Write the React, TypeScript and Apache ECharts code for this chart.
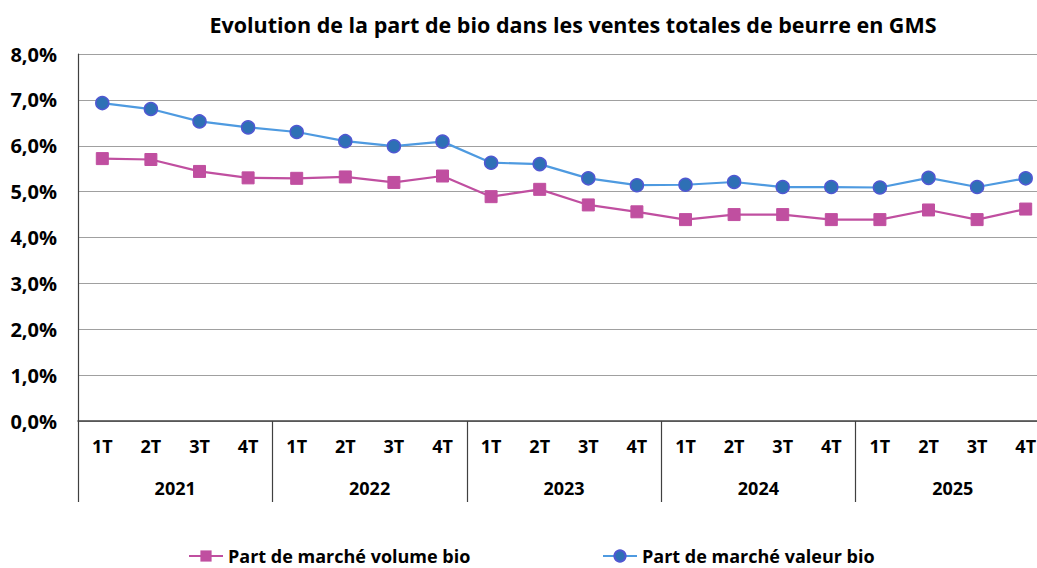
import React, { useEffect, useRef } from "react";
import * as echarts from "echarts";

const quarterLabels = ["1T","2T","3T","4T","1T","2T","3T","4T","1T","2T","3T","4T","1T","2T","3T","4T","1T","2T","3T","4T"];
const years = ["2021", "2022", "2023", "2024", "2025"];
const volumeBio = [5.72, 5.70, 5.44, 5.30, 5.29, 5.32, 5.20, 5.34, 4.89, 5.05, 4.71, 4.56, 4.39, 4.50, 4.50, 4.39, 4.39, 4.60, 4.39, 4.62];
const valeurBio = [6.93, 6.80, 6.53, 6.40, 6.30, 6.10, 5.99, 6.09, 5.63, 5.60, 5.29, 5.14, 5.15, 5.21, 5.10, 5.10, 5.09, 5.30, 5.10, 5.29];
const seriesNames = ["Part de marché volume bio", "Part de marché valeur bio"];
const titleText = "Evolution de la part de bio dans les ventes totales de beurre en GMS";

const FONT = "'Open Sans', sans-serif";

export default function App() {
  const ref = useRef<HTMLDivElement>(null);
  useEffect(() => {
    if (!ref.current) return;
    const chart = echarts.init(ref.current, null, { renderer: "svg" });
    chart.setOption({
      animation: false,
      backgroundColor: "#ffffff",
      title: {
        text: titleText,
        left: 568,
        textAlign: "center",
        top: 8,
        textStyle: { fontFamily: FONT, fontWeight: "bold", fontSize: 21.5, color: "#000" },
      },
      legend: [
        {
          data: [seriesNames[0]],
          left: 188,
          top: 547,
          padding: 0,
          itemWidth: 34,
          itemHeight: 14,
          textStyle: { fontFamily: FONT, fontWeight: "bold", fontSize: 18, color: "#000" },
        },
        {
          data: [seriesNames[1]],
          left: 602,
          top: 547,
          padding: 0,
          itemWidth: 34,
          itemHeight: 14,
          textStyle: { fontFamily: FONT, fontWeight: "bold", fontSize: 18, color: "#000" },
        },
      ],
      grid: { left: 78, top: 54, width: 972, height: 367, containLabel: false, outerBoundsMode: "none" },
      xAxis: [
        {
          type: "category",
          data: quarterLabels,
          boundaryGap: true,
          axisLine: { show: true, lineStyle: { color: "#404040", width: 1.5 } },
          axisTick: { show: false },
          axisLabel: {
            interval: 0,
            margin: 16,
            fontFamily: FONT,
            fontWeight: "bold",
            fontSize: 18,
            color: "#000",
          },
          splitLine: { show: false },
        },
        {
          type: "category",
          data: years,
          position: "bottom",
          boundaryGap: true,
          axisLine: { show: false },
          axisTick: { show: true, interval: 0, length: 81, lineStyle: { color: "#404040", width: 1.2 } },
          axisLabel: {
            interval: 0,
            margin: 58,
            fontFamily: FONT,
            fontWeight: "bold",
            fontSize: 18,
            color: "#000",
          },
          splitLine: { show: false },
        },
      ],
      yAxis: {
        type: "value",
        min: 0,
        max: 8,
        interval: 1,
        axisLine: { show: true, lineStyle: { color: "#404040", width: 1.2 } },
        axisTick: { show: false },
        axisLabel: {
          margin: 21,
          fontFamily: FONT,
          fontWeight: "bold",
          fontSize: 20,
          color: "#000",
          formatter: (v: number) => v.toFixed(1).replace(".", ",") + "%",
        },
        splitLine: { show: true, lineStyle: { color: "#a0a0a0", width: 1 } },
      },
      series: [
        {
          name: seriesNames[0],
          type: "line",
          xAxisIndex: 0,
          data: volumeBio,
          symbol: "rect",
          symbolSize: 12,
          lineStyle: { color: "#C04FA0", width: 2.2 },
          itemStyle: { color: "#C04FA0", borderColor: "#C04FA0" },
        },
        {
          name: seriesNames[1],
          type: "line",
          xAxisIndex: 0,
          data: valeurBio,
          symbol: "circle",
          symbolSize: 13,
          lineStyle: { color: "#4E9AE0", width: 2.2 },
          itemStyle: { color: "#2E70B5", borderColor: "#5058D2", borderWidth: 1.5 },
        },
      ],
    });
    return () => chart.dispose();
  }, []);
  return (
    <div
      ref={ref}
      style={{ position: "fixed", left: 0, top: 0, width: 1037, height: 568, background: "#fff" }}
    />
  );
}
